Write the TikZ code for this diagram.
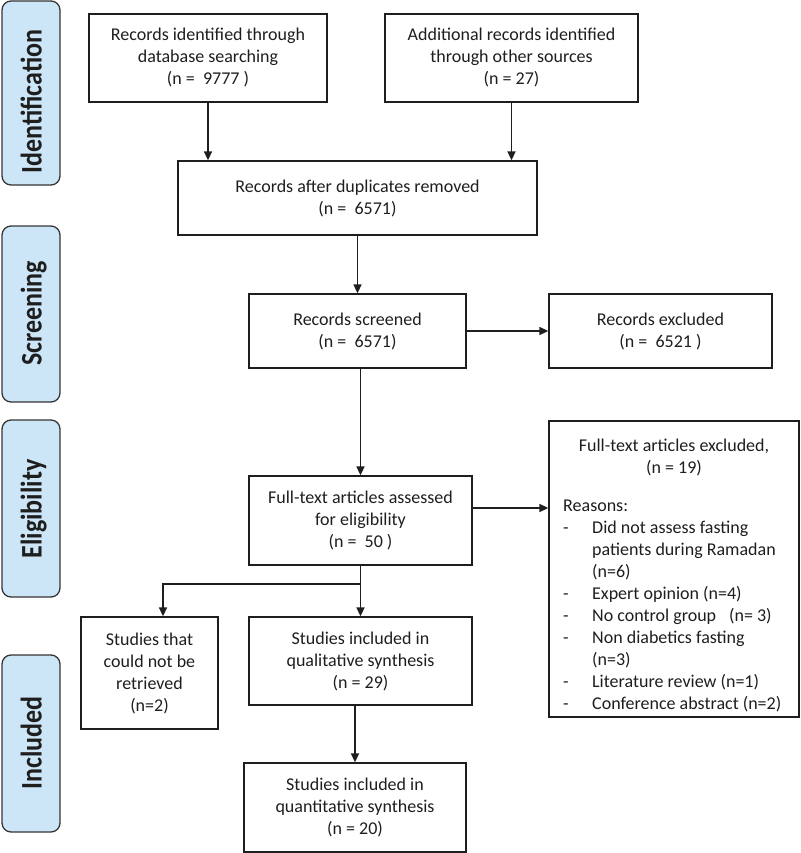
\documentclass[tikz,border=0pt]{standalone}
\usepackage{fontspec}
\setmainfont{Carlito}
\usetikzlibrary{arrows.meta,calc}
\definecolor{phasefill}{RGB}{205,230,247}
\definecolor{inkc}{RGB}{30,30,30}
\begin{document}
\begin{tikzpicture}[x=1pt,y=-1pt,
  box/.style={draw=inkc, line width=1.3pt, align=center, inner sep=0pt, font=\fontsize{18}{22}\selectfont, text=inkc},
  txt/.style={inner sep=0pt, font=\fontsize{18}{22}\selectfont, text=inkc},
  phase/.style={draw=inkc!90, line width=1.3pt, fill=phasefill, rounded corners=9pt, minimum width=58pt, inner sep=0pt},
  phasetxt/.style={rotate=90, anchor=base, font=\fontsize{26}{30}\selectfont\bfseries, inner sep=0pt, text=inkc},
  arr/.style={draw=inkc, line width=1.6pt, -{Triangle[length=9pt,width=8pt]}},
  ln/.style={draw=inkc, line width=1.6pt}
]
\useasboundingbox (0,0) rectangle (800,853);

% phase labels
\node[phase, minimum height=184pt] (pid) at (31,93) {};
\node[phasetxt] (pidt) at (41.5,101.5) {\scalebox{1}[1.15]{Identification}};
\node[phase, minimum height=176pt] (psc) at (31,314) {};
\node[phasetxt] (psct) at (41.5,313.5) {\scalebox{1}[1.15]{Screening}};
\node[phase, minimum height=177pt] (pel) at (31,508.5) {};
\node[phasetxt] (pelt) at (41.5,509) {\scalebox{1}[1.15]{Eligibility}};
\node[phase, minimum height=177pt] (pin) at (31,743.5) {};
\node[phasetxt] (pint) at (41.5,743) {\scalebox{1}[1.15]{Included}};

% boxes
\node[box, minimum width=238pt, minimum height=88pt] (db) at (208,58)
  {Records identified through\\database searching\\(n =~ 9777 )};
\node[box, minimum width=253pt, minimum height=88pt] (other) at (511.5,58)
  {Additional records identified\\through other sources\\(n = 27)};
\node[box, minimum width=359pt, minimum height=74pt] (dup) at (357.5,198)
  {Records after duplicates removed\\(n =~ 6571)};
\node[box, minimum width=217pt, minimum height=74pt] (scr) at (357.5,331)
  {Records screened\\(n =~ 6571)};
\node[box, minimum width=223pt, minimum height=74pt] (excl) at (660.5,331)
  {Records excluded\\(n =~ 6521 )};
\node[box, minimum width=223pt, minimum height=89pt] (ft) at (360.5,520.5)
  {Full-text articles assessed\\for eligibility\\(n =~ 50 )};
\node[box, minimum width=250pt, minimum height=296pt] (ftexcl) at (674,569) {};
\node[txt, align=center] (fthead) at (674,457.5) {Full-text articles excluded,\\(n = 19)};
\node[txt, anchor=north west] (ftlist) at (563,496) {%
\begin{tabular}{@{}p{29pt}@{}l@{}}
\multicolumn{2}{@{}l@{}}{Reasons:}\\
-&Did not assess fasting\\
 &patients during Ramadan\\
 &(n=6)\\
-&Expert opinion (n=4)\\
-&No control group\hspace{13pt}(n= 3)\\
-&Non diabetics fasting\\
 &(n=3)\\
-&Literature review (n=1)\\
-&Conference abstract (n=2)
\end{tabular}};
\node[box, minimum width=137pt, minimum height=112pt] (nr) at (149.5,673)
  {Studies that\\could not be\\retrieved\\(n=2)};
\node[box, minimum width=223pt, minimum height=88pt] (qual) at (360.5,661)
  {Studies included in\\qualitative synthesis\\(n = 29)};
\node[box, minimum width=222pt, minimum height=89pt] (quant) at (355,807.5)
  {Studies included in\\quantitative synthesis\\(n = 20)};

% connectors
\draw[arr] (db.south) -- (db.south |- dup.north);
\draw[arr] (other.south) -- (other.south |- dup.north);
\draw[arr] (dup.south) -- (scr.north);
\draw[arr] (scr.east) -- (excl.west);
\draw[arr] (ft.north |- scr.south) -- (ft.north);
\draw[arr] (ft.east |- 0,508) -- (ftexcl.west |- 0,508);
\coordinate (split) at (ft.south |- 0,584);
\draw[ln] (ft.south) -- (split);
\draw[arr] (split) -- (qual.north);
\draw[arr] (split) -| ($(nr.north)+(13.5,0)$);
\draw[arr] (quant.north |- qual.south) -- (quant.north);
\end{tikzpicture}
\end{document}
